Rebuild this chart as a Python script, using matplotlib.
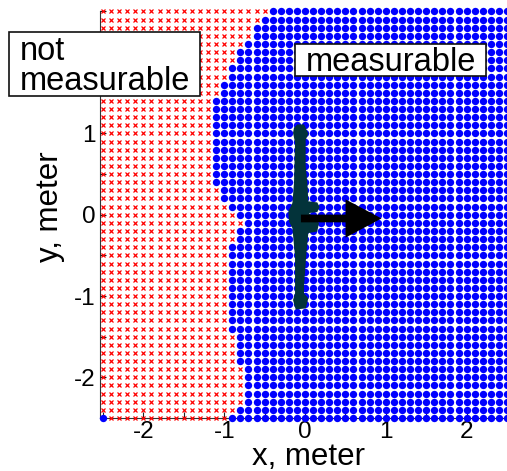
import numpy as np
import matplotlib
matplotlib.use("Agg")
import matplotlib.pyplot as plt
from matplotlib.patches import Rectangle

plt.rcParams["font.family"] = ["Liberation Sans", "DejaVu Sans"]

W, H = 507, 471

# y of each grid row, top to bottom, and the first measurable x in that row
row_y = [2.5, 2.4, 2.3, 2.2, 2.1, 2.0, 1.9, 1.8, 1.7, 1.6, 1.5, 1.4, 1.3,
         1.2, 1.1, 1.0, 0.9, 0.8, 0.7, 0.6, 0.5, 0.4, 0.3, 0.2, 0.1, 0.0,
         -0.1, -0.2, -0.3, -0.4, -0.5, -0.6, -0.7, -0.8, -0.9, -1.0, -1.1,
         -1.2, -1.3, -1.4, -1.5, -1.6, -1.7, -1.8, -1.9, -2.0, -2.1, -2.2,
         -2.3, -2.4, -2.5]
first_blue = [-0.4, -0.5, -0.6, -0.6, -0.7, -0.8, -0.8, -0.9, -0.9, -1.0, -1.0, -1.1, -1.1,
              -1.1, -1.1, -1.1, -1.1, -1.1, -1.1, -1.1, -1.1, -1.1, -1.0, -1.0, -0.9, -0.8,
              -0.7, -0.8, -0.8, -0.9, -0.9, -0.9, -0.9, -0.9, -0.9, -0.9, -0.9,
              -0.9, -0.9, -0.9, -0.8, -0.8, -0.8, -0.8, -0.7, -0.7, -0.7, -0.7,
              -0.7, -0.8, -0.9]
column_x = np.arange(-25, 26) / 10

# the one stray measurable point in the bottom left corner
stray_x = [-2.5]
stray_y = [-2.5]

# top view outline of the body
body_x = [-0.136, -0.095, -0.012, 0.017, 0.041, 0.008, 0.008, 0.029, 0.041, 0.152, 0.181, 0.152,
          0.049, 0.173, 0.152, 0.041, 0.017, -0.012, -0.012, 0.041, 0.008, -0.115, -0.148, -0.123,
          -0.123, -0.156, -0.198, -0.206, -0.156, -0.136, -0.123, -0.148]
body_y = [1.07, 1.111, 1.111, 1.049, 0.996, 0.918, 0.597, 0.391, 0.165, 0.152, 0.095, 0.033,
          0.021, -0.103, -0.206, -0.226, -0.473, -0.885, -0.967, -1.029, -1.152, -1.165, -1.049, -0.967,
          -0.514, -0.165, -0.082, 0.04, 0.144, 0.391, 0.885, 1.008]

ticks = [-2.5, -2, -1.5, -1, -0.5, 0, 0.5, 1, 1.5, 2, 2.5]
tick_labels = ["", "-2", "", "-1", "", "0", "", "1", "", "2", ""]

red_x, red_y, blue_x, blue_y = [], [], [], []
for y, start in zip(row_y, first_blue):
    for x in column_x:
        if x < start - 0.01:
            red_x.append(x)
            red_y.append(y)
        else:
            blue_x.append(x)
            blue_y.append(y)

fig = plt.figure(figsize=(W / 100, H / 100), dpi=100)
left, right, top, bottom = 100, W, 11.5, 418
ax = fig.add_axes([left / W, 1 - bottom / H, (right - left) / W, (bottom - top) / H])
ax.set_xlim((left - 306) / 81.2, (right - 306) / 81.2)
ax.set_ylim(-2.5, 2.5)

ax.plot(red_x, red_y, "x", color="#ff0000", ms=3.4, mew=0.9, clip_on=False, zorder=2)
ax.plot(blue_x, blue_y, "o", color="#0000ff", ms=5.3, mew=0, clip_on=False, zorder=3)
ax.plot(stray_x, stray_y, "o", color="#0000ff", ms=5.3, mew=0, clip_on=False, zorder=3)
ax.fill(body_x, body_y, color="#03333a", lw=0, zorder=4)
ax.arrow(-0.05, -0.046, 0.997, 0, width=0.095, head_width=0.47, head_length=0.445,
         length_includes_head=True, color="black", lw=0, zorder=5)

for s in ["top", "right"]:
    ax.spines[s].set_visible(False)
for s in ["left", "bottom"]:
    ax.spines[s].set_color("#333333")
    ax.spines[s].set_zorder(1)
ax.set_xticks([t for t in ticks if t >= ax.get_xlim()[0]])
ax.set_xticklabels([l for t, l in zip(ticks, tick_labels) if t >= ax.get_xlim()[0]])
ax.set_yticks(ticks)
ax.set_yticklabels(tick_labels)
ax.tick_params(direction="in", length=4, width=0.8, labelsize=17.5, pad=3, color="#222222")
ax.tick_params(axis="x", pad=2)

# label boxes sit on top of the grid, placed in pixels
for x0, y0, x1, y1 in [(9, 32, 200, 96), (295, 44, 486, 76)]:
    fig.add_artist(Rectangle((x0 / W, 1 - y1 / H), (x1 - x0) / W, (y1 - y0) / H,
                             transform=fig.transFigure, fc="white", ec="#111111", lw=1.2, zorder=10))
fig.text(20 / W, 1 - 60 / H, "not", fontsize=23.5, va="baseline", zorder=11)
fig.text(20 / W, 1 - 90 / H, "measurable", fontsize=23.5, va="baseline", zorder=11)
fig.text(306 / W, 1 - 71 / H, "measurable", fontsize=23.5, va="baseline", zorder=11)

fig.text(309 / W, 1 - 465 / H, "x, meter", fontsize=22.5, ha="center", va="baseline")
fig.text(58 / W, 1 - 207 / H, "y, meter", fontsize=22.5, ha="center", va="baseline",
         rotation=90, rotation_mode="anchor")

fig.savefig("out.png", dpi=100)
plt.close(fig)
